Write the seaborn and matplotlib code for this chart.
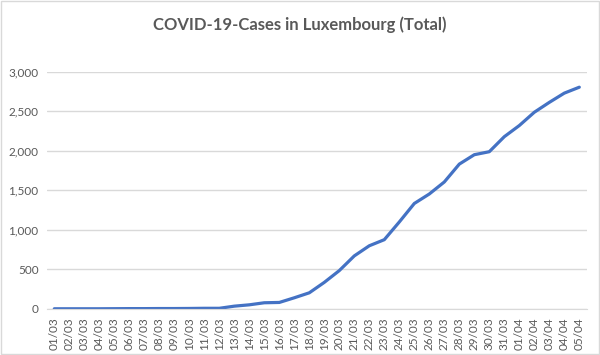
import matplotlib.pyplot as plt
import pandas as pd
import numpy as np
import seaborn as sns

sns.set_style('white')
plt.rcParams['font.family'] = ['Lato', 'DejaVu Sans']

# data
dates = ['01/03', '02/03', '03/03', '04/03', '05/03', '06/03', '07/03', '08/03', '09/03',
         '10/03', '11/03', '12/03', '13/03', '14/03', '15/03', '16/03', '17/03', '18/03',
         '19/03', '20/03', '21/03', '22/03', '23/03', '24/03', '25/03', '26/03', '27/03',
         '28/03', '29/03', '30/03', '31/03', '01/04', '02/04', '03/04', '04/04', '05/04']
cases = [1, 1, 1, 1, 2, 3, 3, 4, 4, 5, 7, 7, 34, 51, 77, 81, 140, 203,
         335, 484, 670, 798, 875, 1099, 1333, 1453, 1605, 1831, 1950, 1988, 2178,
         2319, 2487, 2612, 2729, 2804]
yticks = [0, 500, 1000, 1500, 2000, 2500, 3000]

df = pd.DataFrame({'date': dates, 'cases': cases})
df['pos'] = range(len(df))

grey = '#595959'
fig = plt.figure(figsize=(6, 3.55), dpi=100)
ax = fig.add_axes([0.078, 0.13, 0.9, 0.668])

sns.lineplot(data=df, x='pos', y='cases', ax=ax, color='#4472C4', linewidth=2.3)

ax.set_xlim(-0.5, len(df) - 0.5)
ax.set_ylim(0, 3000)
ax.set_yticks(yticks)
ax.set_yticklabels([f'{v:,}' for v in yticks], color=grey, fontsize=8.5)
ax.set_xticks(df['pos'])
ax.set_xticklabels(df['date'], rotation=90, color=grey, fontsize=8.5)
ax.tick_params(axis='both', length=0, pad=6)
ax.grid(axis='y', color='#D9D9D9', linewidth=1)
ax.set_axisbelow(True)
for s in ['top', 'right', 'left']:
    ax.spines[s].set_visible(False)
ax.spines['bottom'].set_color('#D9D9D9')
ax.set_xlabel('')
ax.set_ylabel('')

fig.text(0.5, 0.93, 'COVID-19-Cases in Luxembourg (Total)', ha='center', va='center',
         fontsize=12, color=grey, fontweight='bold')

# outer border like the excel chart
fig.patches.append(plt.Rectangle((0.002, 0.003), 0.996, 0.994, transform=fig.transFigure,
                                 fill=False, edgecolor='#D9D9D9', linewidth=1))

fig.savefig('out.png', dpi=100)
